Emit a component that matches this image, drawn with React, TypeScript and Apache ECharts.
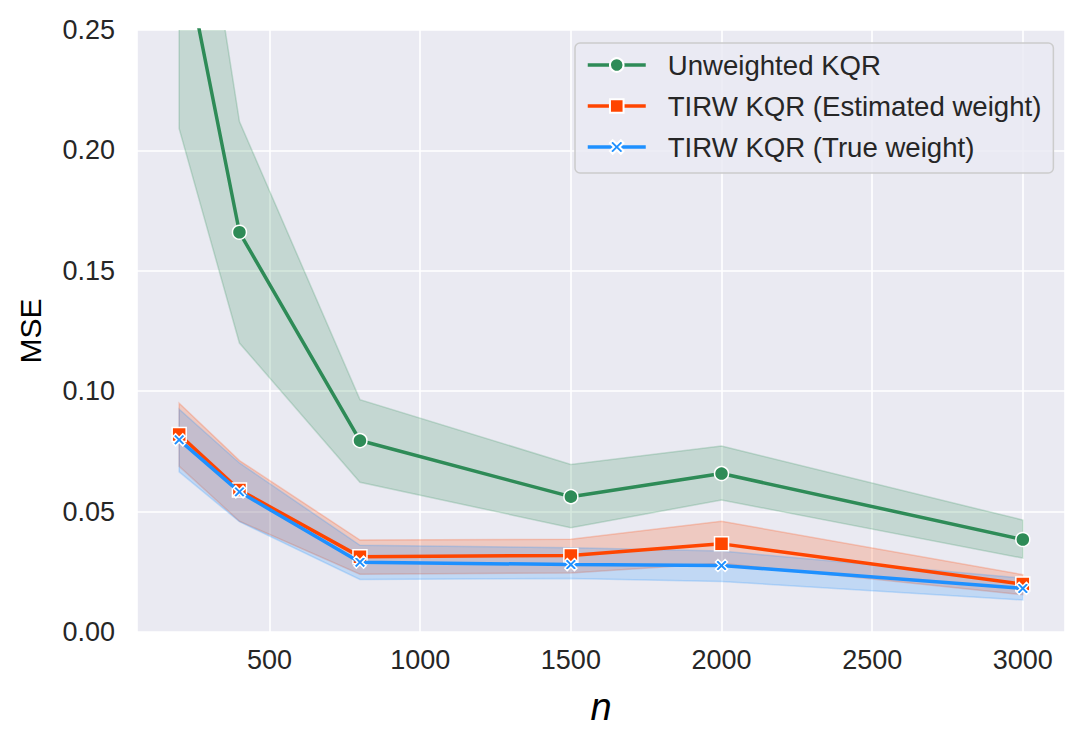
import React, { useEffect, useRef } from "react";
import * as echarts from "echarts";

const nValues = [200, 400, 800, 1500, 2000, 3000];

const unweightedMean = [0.292, 0.166, 0.0795, 0.0562, 0.0658, 0.0384];
const unweightedLower = [0.209, 0.12, 0.0622, 0.0433, 0.0548, 0.0307];
const unweightedUpper = [0.372, 0.212, 0.0965, 0.0696, 0.0772, 0.0465];

const estimatedMean = [0.082, 0.059, 0.0313, 0.0318, 0.0366, 0.0199];
const estimatedLower = [0.0688, 0.046, 0.024, 0.0245, 0.0285, 0.0155];
const estimatedUpper = [0.095, 0.0712, 0.0382, 0.0385, 0.046, 0.0238];

const trueMean = [0.0798, 0.0582, 0.029, 0.028, 0.0276, 0.0181];
const trueLower = [0.0665, 0.0458, 0.0218, 0.0222, 0.021, 0.0133];
const trueUpper = [0.0925, 0.0702, 0.036, 0.035, 0.0336, 0.0224];

const seriesNames = [
  "Unweighted KQR",
  "TIRW KQR (Estimated weight)",
  "TIRW KQR (True weight)",
];

const FONT = "'Liberation Sans', Arial, Helvetica, sans-serif";
const TEXT = "#262626";
const X_PATH =
  "path://M2,0 L5,3 L8,0 L10,2 L7,5 L10,8 L8,10 L5,7 L2,10 L0,8 L3,5 L0,2 Z";

function rgba(hex: string, a: number) {
  const r = parseInt(hex.slice(1, 3), 16);
  const g = parseInt(hex.slice(3, 5), 16);
  const b = parseInt(hex.slice(5, 7), 16);
  return `rgba(${r},${g},${b},${a})`;
}

function bandSeries(color: string, lower: number[], upper: number[]) {
  return {
    type: "custom",
    silent: true,
    clip: true,
    z: 1,
    data: nValues.map((n, i) => [n, lower[i], upper[i]]),
    encode: { x: 0, y: [1, 2] },
    renderItem: (params: any, api: any) => {
      if (params.dataIndex !== 0) return null;
      const pts: number[][] = [];
      for (let i = 0; i < nValues.length; i++) {
        pts.push(api.coord([nValues[i], upper[i]]));
      }
      for (let i = nValues.length - 1; i >= 0; i--) {
        pts.push(api.coord([nValues[i], lower[i]]));
      }
      return {
        type: "polygon",
        shape: { points: pts },
        style: {
          fill: rgba(color, 0.2),
          stroke: rgba(color, 0.22),
          lineWidth: 1.5,
        },
      };
    },
  };
}

function meanSeries(
  name: string,
  color: string,
  values: number[],
  symbol: string,
  size: number,
  z: number
) {
  return {
    type: "line",
    name,
    data: nValues.map((n, i) => [n, values[i]]),
    symbol,
    symbolSize: size,
    showAllSymbol: true,
    lineStyle: { color, width: 3.5 },
    itemStyle: { color, borderColor: "#ffffff", borderWidth: 1.5 },
    z,
  };
}

export default function App() {
  const ref = useRef<HTMLDivElement>(null);

  useEffect(() => {
    document.body.style.margin = "0";
    if (!ref.current) return;
    const chart = echarts.init(ref.current, null, { renderer: "svg" });
    const green = "#2E8B57";
    const orange = "#FF4500";
    const blue = "#1E90FF";

    chart.setOption({
      animation: false,
      backgroundColor: "#ffffff",
      textStyle: { fontFamily: FONT },
      grid: {
        left: 137,
        right: 20,
        top: 30,
        bottom: 116,
        show: true,
        backgroundColor: "#EAEAF2",
        borderWidth: 0,
      },
      xAxis: {
        type: "value",
        min: 60,
        max: 3140,
        splitNumber: 6,
        axisLine: { show: false },
        axisTick: { show: false },
        axisLabel: {
          showMinLabel: false,
          showMaxLabel: false,
          color: TEXT,
          fontSize: 27,
          fontFamily: FONT,
          margin: 14,
          formatter: (v: number) => String(v),
        },
        splitLine: { show: true, lineStyle: { color: "#ffffff", width: 1.6 } },
        name: "n",
        nameLocation: "middle",
        nameGap: 56,
        nameTextStyle: {
          color: "#000000",
          fontSize: 38,
          fontStyle: "italic",
          fontFamily: FONT,
        },
      },
      yAxis: {
        type: "value",
        min: 0,
        max: 0.25,
        interval: 0.05,
        axisLine: { show: false },
        axisTick: { show: false },
        axisLabel: {
          color: TEXT,
          fontSize: 27,
          fontFamily: FONT,
          margin: 22,
          formatter: (v: number) => v.toFixed(2),
        },
        splitLine: { show: true, lineStyle: { color: "#ffffff", width: 1.6 } },
        name: "MSE",
        nameLocation: "middle",
        nameGap: 92,
        nameTextStyle: { color: "#000000", fontSize: 30, fontFamily: FONT },
      },
      legend: {
        data: seriesNames,
        orient: "vertical",
        left: 575,
        top: 43,
        itemWidth: 58,
        itemHeight: 17,
        itemGap: 13,
        padding: [8, 12, 12, 11],
        backgroundColor: "rgba(234,234,242,0.8)",
        borderColor: "#cccccc",
        borderWidth: 1.5,
        borderRadius: 5,
        lineStyle: { width: 3.5 },
        textStyle: {
          color: TEXT,
          fontSize: 27.6,
          fontFamily: FONT,
          lineHeight: 27,
          padding: [0, 0, 0, 17],
        },
      },
      series: [
        bandSeries(green, unweightedLower, unweightedUpper),
        bandSeries(orange, estimatedLower, estimatedUpper),
        bandSeries(blue, trueLower, trueUpper),
        meanSeries(seriesNames[0], green, unweightedMean, "circle", 14, 3),
        meanSeries(seriesNames[1], orange, estimatedMean, "rect", 14, 4),
        meanSeries(seriesNames[2], blue, trueMean, X_PATH, 12, 5),
      ],
    });

    return () => chart.dispose();
  }, []);

  return <div ref={ref} style={{ width: 1085, height: 748 }} />;
}
